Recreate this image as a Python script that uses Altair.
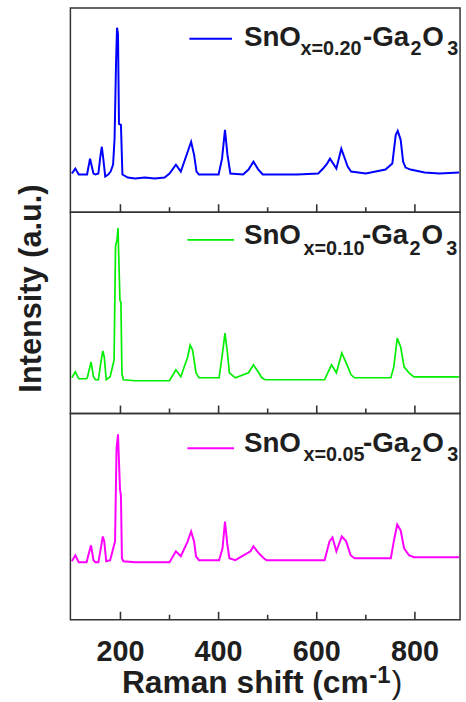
import altair as alt
import pandas as pd

# ---------------- data ----------------
wn_020 = [101, 108, 115, 132, 138, 145, 149, 155, 159, 162, 165, 169, 175, 180, 185,
          188, 191, 193, 195, 197, 201, 204, 215, 230, 250, 270, 290, 300, 313, 323,
          337, 344, 350, 355, 360, 400, 407, 413, 418, 424, 450, 461, 471, 481, 490,
          560, 603, 613, 621, 627, 640, 650, 663, 670, 700, 740, 754, 761, 765, 771,
          776, 781, 791, 820, 850, 890]
int_020 = [39, 44, 38, 38, 54, 39, 38, 39, 56, 66, 54, 36, 38, 41, 48,
           74, 150, 186, 180, 89, 88, 38, 35, 34, 35, 34, 35, 39, 48, 41,
           61, 71, 58, 41, 38, 38, 54, 83, 58, 39, 38, 43, 51, 43, 38,
           38, 39, 44, 49, 54, 44, 64, 46, 41, 39, 43, 49, 78, 82, 73,
           51, 45, 43, 40, 39, 40]

wn_010 = [101, 108, 115, 131, 133, 140, 145, 149, 155, 160, 164, 167, 171, 179, 187,
          190, 193, 195, 197, 199, 201, 203, 206, 230, 260, 300, 313, 323, 337, 342,
          347, 354, 360, 401, 408, 413, 418, 422, 434, 461, 471, 482, 488, 495, 616,
          630, 640, 651, 660, 670, 677, 751, 757, 764, 771, 778, 788, 798, 890]
int_010 = [36, 42, 35, 35, 37, 52, 37, 34, 34, 51, 63, 57, 34, 37, 54,
           169, 175, 187, 150, 114, 112, 40, 34, 33, 33, 33, 44, 37, 57, 69,
           64, 41, 36, 36, 61, 81, 61, 41, 36, 41, 49, 41, 36, 34, 34,
           49, 41, 61, 51, 39, 36, 36, 47, 76, 67, 47, 41, 37, 37]

wn_005 = [101, 108, 115, 131, 133, 140, 145, 149, 155, 160, 164, 167, 171, 179, 189,
          192, 195, 197, 199, 201, 203, 206, 230, 260, 300, 313, 323, 337, 344, 350,
          354, 360, 401, 408, 413, 418, 422, 434, 465, 471, 482, 492, 498, 616, 626,
          632, 640, 651, 660, 669, 677, 751, 757, 764, 771, 778, 788, 798, 890]
int_005 = [59, 65, 58, 58, 62, 75, 60, 58, 58, 72, 84, 79, 59, 60, 79,
           172, 187, 160, 132, 125, 62, 59, 58, 58, 58, 69, 64, 79, 89, 79,
           64, 60, 60, 72, 99, 75, 62, 60, 69, 74, 67, 62, 60, 60, 79,
           83, 69, 84, 79, 65, 62, 62, 79, 96, 90, 72, 65, 63, 63]

series_labels = ["0.20", "0.10", "0.05"]
series_colors = ["#0000ff", "#00ee00", "#ff00ff"]

major_ticks = [200, 400, 600, 800]
minor_ticks = [300, 500, 700]

# ---------------- styling / layout ----------------
X_DOMAIN = [98, 892]
PLOT_W = 393
FONT = "Liberation Sans"
INK = "#1e1e1e"
FRAME = "#333333"
XSCALE = alt.Scale(domain=X_DOMAIN, nice=False, zero=False)


def one_row():
    return pd.DataFrame({"k": [0]})


def text_piece(s, x, y, size, weight="bold"):
    return alt.Chart(one_row()).mark_text(
        text=s, x=x, y=y, align="left", baseline="alphabetic",
        fontSize=size, fontWeight=weight, font=FONT, color=INK)


def build_panel(wn, inten, color, lw, h, sub, leg, bottom=False, ytitle=False):
    df = pd.DataFrame({"wn": wn, "inten": inten})
    line = alt.Chart(df).mark_line(color=color, strokeWidth=lw).encode(
        x=alt.X("wn:Q", scale=XSCALE, axis=None),
        y=alt.Y("inten:Q", scale=alt.Scale(domain=[0, h], nice=False, zero=True), axis=None),
    )
    major = alt.Chart(pd.DataFrame({"v": major_ticks})).mark_rule(
        color=FRAME, strokeWidth=1.6).encode(
        x=alt.X("v:Q", scale=XSCALE, axis=None), y=alt.value(h), y2=alt.value(h - 8))
    minor = alt.Chart(pd.DataFrame({"v": minor_ticks})).mark_rule(
        color=FRAME, strokeWidth=1.6).encode(
        x=alt.X("v:Q", scale=XSCALE, axis=None), y=alt.value(h), y2=alt.value(h - 5))
    leg_line = alt.Chart(one_row()).mark_rule(color=color, strokeWidth=lw).encode(
        x=alt.value(leg["x0"]), x2=alt.value(leg["x1"]), y=alt.value(leg["ly"]))
    b, sb = leg["base"], leg["subbase"]
    pieces = [
        text_piece("SnO", 175, b, 28),
        text_piece("x=" + sub, leg["xs"], sb, 20),
        text_piece("-Ga", leg["ga"], b, 28),
        text_piece("2", leg["ga"] + 48, sb, 20),
        text_piece("O", leg["ga"] + 60, b, 28),
        text_piece("3", leg["ga"] + 85, sb, 20),
    ]
    layers = [line, major, minor, leg_line] + pieces
    if ytitle:
        layers.append(alt.Chart(one_row()).mark_text(
            text="Intensity (a.u.)", x=-30, y=77, angle=270, align="center",
            baseline="alphabetic", fontSize=31, fontWeight="bold", font=FONT, color=INK))
    if bottom:
        labels = alt.Chart(pd.DataFrame({"v": major_ticks})).mark_text(
            align="center", baseline="alphabetic", fontSize=29, fontWeight="bold",
            font=FONT, color=INK).encode(
            x=alt.X("v:Q", scale=XSCALE, axis=None),
            y=alt.value(h + 42),
            text=alt.Text("v:Q", format="d"))
        layers.append(labels)
        layers.append(text_piece("Raman shift (cm", 52, 282, 32))
        layers.append(text_piece("-1", 301.5, 272, 24))
        layers.append(text_piece(")", 324, 282, 32, weight="normal"))
    return alt.layer(*layers).properties(width=PLOT_W, height=h)


p1 = build_panel(wn_020, int_020, series_colors[0], 2.0, 206, series_labels[0],
                 dict(x0=120, x1=163, ly=31, base=38, subbase=47, xs=232, ga=295))
p2 = build_panel(wn_010, int_010, series_colors[1], 1.7, 203, series_labels[1],
                 dict(x0=118, x1=165, ly=28, base=32, subbase=43, xs=235, ga=294),
                 ytitle=True)
p3 = build_panel(wn_005, int_005, series_colors[2], 2.0, 208, series_labels[2],
                 dict(x0=118, x1=165, ly=35, base=39, subbase=48, xs=235, ga=295),
                 bottom=True)

chart = alt.vconcat(p1, p2, p3, spacing=0, bounds="flush").properties(
    padding={"left": 15, "top": 4, "right": 2, "bottom": 0},
    background="white",
).configure_view(stroke=FRAME, strokeWidth=1.5)

chart.save("out.html", embed_options={"renderer": "svg", "actions": False})
